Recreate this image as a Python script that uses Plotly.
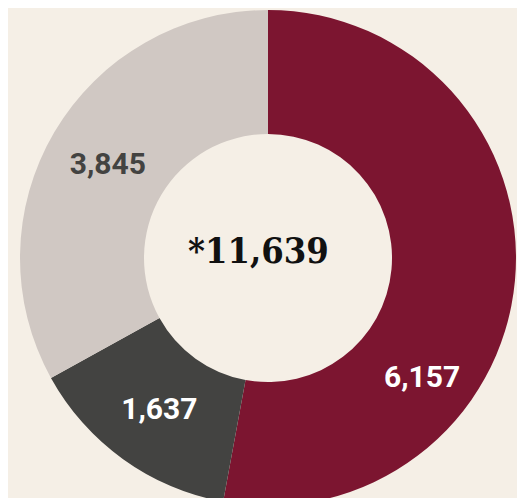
import plotly.graph_objects as go

labels = ["Segment A", "Segment B", "Segment C"]
values = [6157, 1637, 3845]
slice_colors = ["#7c1530", "#434341", "#d0c8c3"]
text_colors = ["#ffffff", "#ffffff", "#434341"]
total_label = "*11,639"

BG = "#f5efe6"
LABEL_FONT = dict(family="Roboto", size=30, weight="bold")

# the big slice's label sits lower than its midpoint, so it gets its own annotation
fig = go.Figure(go.Pie(
    labels=labels,
    values=values,
    hole=0.5,
    sort=False,
    direction="clockwise",
    rotation=0,
    marker=dict(colors=slice_colors, line=dict(width=0)),
    texttemplate=[""] + ["%{value:,}"] * (len(values) - 1),
    textposition="inside",
    insidetextorientation="horizontal",
    textfont=dict(**LABEL_FONT, color=text_colors),
    showlegend=False,
    hoverinfo="skip",
))

fig.add_annotation(
    text=f"{values[0]:,}", x=0.891, y=0.222, xref="paper", yref="paper",
    showarrow=False, font=dict(**LABEL_FONT, color=text_colors[0]),
)

fig.add_annotation(
    text=total_label, x=0.48, y=0.516, xref="paper", yref="paper",
    showarrow=False,
    font=dict(family="DejaVu Serif Condensed", size=36, color="#111111", weight="bold"),
)

fig.update_layout(
    width=525, height=498,
    paper_bgcolor=BG, plot_bgcolor=BG,
    margin=dict(l=12, r=17, t=2, b=0),
)

fig.write_html("out.html")
